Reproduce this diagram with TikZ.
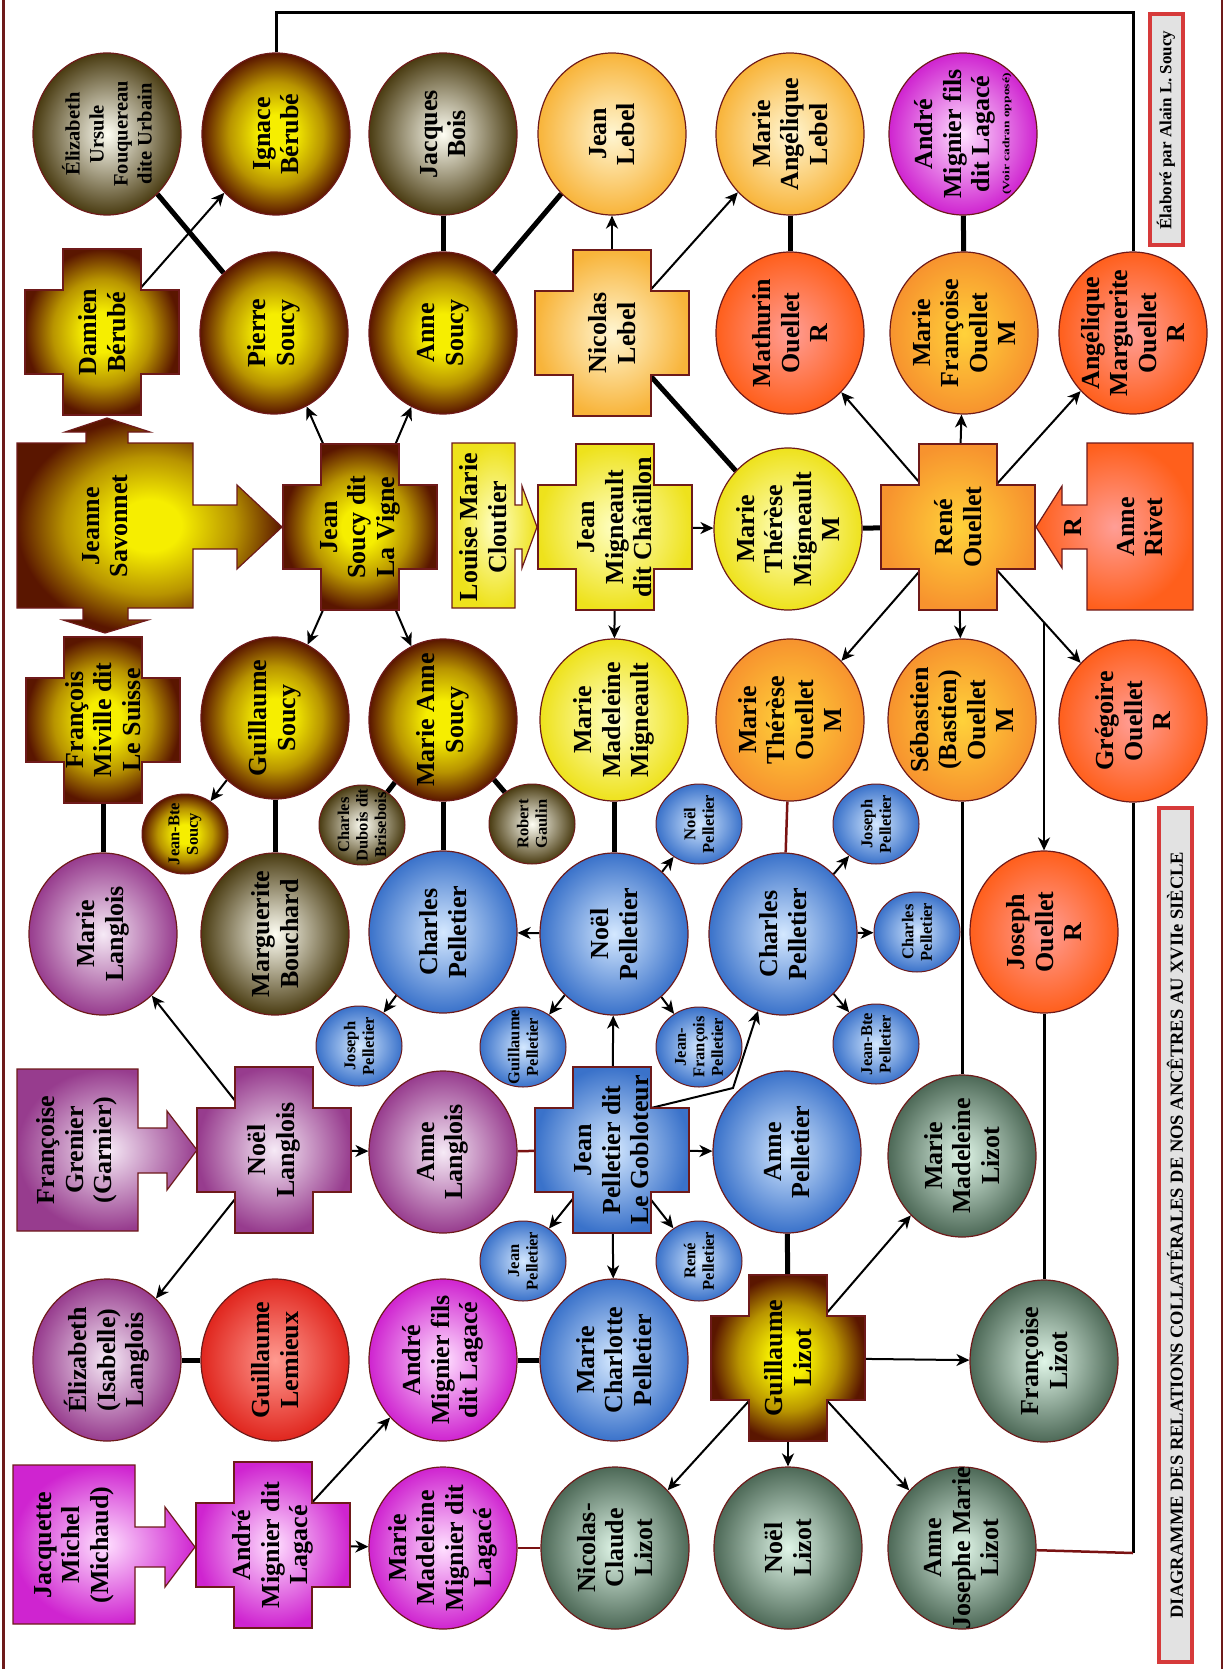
\documentclass[tikz,border=0pt]{standalone}
\usepackage{fontspec}
\setmainfont{Liberation Serif}
\usetikzlibrary{shapes.geometric,arrows.meta,backgrounds}

\definecolor{rim}{HTML}{6E1A1A}
\definecolor{tiered}{HTML}{7A1212}
\definecolor{boxred}{HTML}{D63A3A}
\definecolor{boxgrey}{HTML}{E2E2E2}
\definecolor{soucyin}{HTML}{F6EE00}
\definecolor{soucymid}{HTML}{B89400}
\definecolor{soucyout}{HTML}{5A1600}
\definecolor{olivein}{HTML}{FFFFF4}
\definecolor{oliveout}{HTML}{4A3C12}
\definecolor{lebelin}{HTML}{FFF6D2}
\definecolor{lebelout}{HTML}{F8B43A}
\definecolor{mignin}{HTML}{FFFFC4}
\definecolor{mignout}{HTML}{EEE21C}
\definecolor{ouelin}{HTML}{FFD23A}
\definecolor{ouelout}{HTML}{F7932E}
\definecolor{rivetin}{HTML}{FF9E96}
\definecolor{rivetout}{HTML}{FF5F1C}
\definecolor{langin}{HTML}{F6EAF6}
\definecolor{langout}{HTML}{973C8E}
\definecolor{lagain}{HTML}{FFE0FF}
\definecolor{lagaout}{HTML}{CF24D0}
\definecolor{lemin}{HTML}{FF9A90}
\definecolor{lemout}{HTML}{E0261E}
\definecolor{pellin}{HTML}{D4E8FF}
\definecolor{pellout}{HTML}{3A72CA}
\definecolor{lizotin}{HTML}{E0F6E8}
\definecolor{lizotout}{HTML}{4D6957}

\pgfdeclareradialshading{soucyshade}{\pgfpoint{0bp}{0bp}}{color(0bp)=(soucyin); color(6bp)=(soucyin); color(16bp)=(soucymid); color(25bp)=(soucyout); color(50bp)=(soucyout)}

\tikzset{
  soucyfam/.style={shade, shading=soucyshade},
  olivefam/.style={inner color=olivein, outer color=oliveout},
  lebelfam/.style={inner color=lebelin, outer color=lebelout},
  mignfam/.style={inner color=mignin, outer color=mignout},
  ouelfam/.style={inner color=ouelin, outer color=ouelout},
  rivetfam/.style={inner color=rivetin, outer color=rivetout},
  langfam/.style={inner color=langin, outer color=langout},
  lagafam/.style={inner color=lagain, outer color=lagaout},
  lemfam/.style={inner color=lemin, outer color=lemout},
  pellfam/.style={inner color=pellin, outer color=pellout},
  lizotfam/.style={inner color=lizotin, outer color=lizotout},
  disc/.style={ellipse, draw=rim, line width=1.2pt, minimum width=148pt, minimum height=162pt, inner sep=0pt},
  pip/.style={ellipse, draw=rim, line width=1pt, minimum width=86pt, minimum height=80pt, inner sep=0pt},
  hub/.style={rectangle, minimum width=78pt, minimum height=84pt, inner sep=0pt},
  txt/.style={rotate=90, align=center, inner sep=0pt, font=\bfseries\fontsize{26}{28.5}\selectfont},
  piptxt/.style={rotate=90, align=center, inner sep=0pt, font=\bfseries\fontsize{16.5}{18.5}\selectfont},
  credit/.style={rotate=90, draw=boxred, line width=4pt, fill=boxgrey, inner sep=0pt, minimum height=33pt, font=\bfseries\fontsize{17}{20}\selectfont},
  wed/.style={line width=5pt},
  kinline/.style={line width=3pt},
  redtie/.style={line width=2.5pt, draw=tiered},
  offspring/.style={line width=2pt, -{Stealth[length=13pt,width=12pt,inset=4pt]}}
}

% cross outline around a centre
\newcommand{\plusshape}[2]{\shade[#1, draw=rim, line width=1.2pt, shift={#2}] (-39,-83) -- (39,-83) -- (39,-42) -- (77,-42) -- (77,42) -- (39,42) -- (39,83) -- (-39,83) -- (-39,42) -- (-77,42) -- (-77,-42) -- (-39,-42) -- cycle;}

\begin{document}
\begin{tikzpicture}[x=1pt,y=-1pt]
\useasboundingbox (0,0) rectangle (1225,1669);
\draw[rim, line width=3pt] (3,0) -- (3,1669);
\draw[rim, line width=1.5pt] (1222,0) -- (1222,1669);

\coordinate (topbar) at (700,13);
\coordinate (rbranch) at (1044,623);
\coordinate (gobbend) at (733,1088);
\coordinate (gjcorner) at (1133,1553);

% block shapes with arrows
\shade[soucyfam, draw=rim, line width=1.2pt] (17,443) -- (86,443) -- (86,432) -- (65,432) -- (107,418) -- (150,432) -- (128,432) -- (128,443) -- (193,443) -- (193,505) -- (237,505) -- (237,485) -- (282,527) -- (237,569) -- (237,549) -- (193,549) -- (193,608) -- (128,608) -- (128,620) -- (148,620) -- (105,633) -- (63,620) -- (83,620) -- (83,608) -- (17,608) -- cycle;
\shade[mignfam, draw=rim, line width=1.2pt] (452,443) -- (515,443) -- (515,505) -- (522,505) -- (522,486) -- (537,527) -- (522,568) -- (522,549) -- (515,549) -- (515,608) -- (452,608) -- cycle;
\shade[rivetfam, draw=rim, line width=1.2pt] (1087,443) -- (1193,443) -- (1193,610) -- (1087,610) -- (1087,549) -- (1062,549) -- (1062,568) -- (1036,527) -- (1062,486) -- (1062,505) -- (1087,505) -- cycle;
\shade[langfam, draw=rim, line width=1.2pt] (17,1069) -- (138,1069) -- (138,1128) -- (167,1128) -- (167,1111) -- (197,1150) -- (167,1190) -- (167,1173) -- (138,1173) -- (138,1231) -- (17,1231) -- cycle;
\shade[lagafam, draw=rim, line width=1.2pt] (13,1465) -- (135,1465) -- (135,1527) -- (165,1527) -- (165,1507) -- (195,1547) -- (165,1587) -- (165,1567) -- (135,1567) -- (135,1624) -- (13,1624) -- cycle;

% crosses
\plusshape{soucyfam}{(102,332)}
\plusshape{lebelfam}{(612,333)}
\plusshape{soucyfam}{(360,527)}
\plusshape{mignfam}{(615,527)}
\plusshape{ouelfam}{(958,527)}
\plusshape{soucyfam}{(103,720)}
\plusshape{langfam}{(274,1150)}
\plusshape{pellfam}{(612,1150)}
\plusshape{soucyfam}{(788,1358)}
\plusshape{lagafam}{(273,1545)}
\node[hub] (damien) at (102,332) {};
\node[hub] (nicolas) at (612,333) {};
\node[hub] (jsoucy) at (360,527) {};
\node[hub] (jmigneault) at (615,527) {};
\node[hub] (rene) at (958,527) {};
\node[hub] (francois) at (103,720) {};
\node[hub] (nlanglois) at (274,1150) {};
\node[hub] (jeanp) at (612,1150) {};
\node[hub] (glizot) at (788,1358) {};
\node[hub] (andre) at (273,1545) {};
\node[txt] (damienT) at (damien) {Damien\\Bérubé};
\node[txt] (nicolasT) at (nicolas) {Nicolas\\Lebel};
\node[txt] (jsoucyT) at (jsoucy) {Jean\\Soucy dit\\La Vigne};
\node[txt] (jmigneaultT) at (jmigneault) {Jean\\Migneault\\dit Châtillon};
\node[txt] (reneT) at (rene) {René\\Ouellet};
\node[txt] (francoisT) at (francois) {François\\Miville dit\\Le Suisse};
\node[txt] (nlangloisT) at (nlanglois) {Noël\\Langlois};
\node[txt] (jeanpT) at (jeanp) {Jean\\Pelletier dit\\Le Gobloteur};
\node[txt] (glizotT) at (glizot) {Guillaume\\Lizot};
\node[txt] (andreT) at (andre) {André\\Mignier dit\\Lagacé};
\node[txt] (jeanne) at (105,526) {Jeanne\\Savonnet};
\node[txt] (louise) at (483,527) {Louise Marie\\Cloutier};
\node[txt] (rivet) at (1140,527) {Anne\\Rivet};
\node[txt] (rivetR) at (1073,527) {R};
\node[txt] (grenier) at (77,1150) {Françoise\\Grenier\\(Garnier)};
\node[txt] (jacquette) at (74,1545) {Jacquette\\Michel\\(Michaud)};

% persons
\node[disc, olivefam] (elizabeth) at (107,134) {};
\node[disc, soucyfam] (ignace) at (276,134) {};
\node[disc, olivefam] (jacques) at (443,134) {};
\node[disc, lebelfam] (jlebel) at (612,134) {};
\node[disc, lebelfam] (angelique) at (790,134) {};
\node[disc, lagafam] (andretop) at (963,134) {};
\node[disc, soucyfam] (pierre) at (274,333) {};
\node[disc, soucyfam] (annes) at (443,333) {};
\node[disc, rivetfam] (mathurin) at (790,333) {};
\node[disc, ouelfam] (mfrancoise) at (964,333) {};
\node[disc, rivetfam] (amarguerite) at (1133,333) {};
\node[disc, mignfam] (mtmign) at (788,529) {};
\node[disc, soucyfam] (gsoucy) at (275,718) {};
\node[disc, soucyfam] (masoucy) at (443,720) {};
\node[disc, mignfam] (mmmign) at (614,720) {};
\node[disc, ouelfam] (mtouel) at (790,720) {};
\node[disc, ouelfam] (sebastien) at (962,720) {};
\node[disc, rivetfam] (gregoire) at (1133,721) {};
\node[pip, soucyfam] (jbsoucy) at (185,834) {};
\node[pip, olivefam] (dubois) at (362,825) {};
\node[pip, olivefam] (gaulin) at (532,824) {};
\node[pip, pellfam] (noelsm) at (699,824) {};
\node[pip, pellfam] (josephsmr) at (876,824) {};
\node[disc, langfam] (mlanglois) at (103,934) {};
\node[disc, olivefam] (bouchard) at (275,934) {};
\node[disc, pellfam] (charles) at (443,932) {};
\node[disc, pellfam] (noelp) at (614,934) {};
\node[disc, pellfam] (charles2) at (783,934) {};
\node[pip, pellfam] (charlessm) at (917,932) {};
\node[disc, rivetfam] (joseph) at (1044,932) {};
\node[pip, pellfam] (josephsml) at (359,1046) {};
\node[pip, pellfam] (guillsm) at (523,1047) {};
\node[pip, pellfam] (jfsm) at (699,1047) {};
\node[pip, pellfam] (jbpsm) at (876,1044) {};
\node[disc, langfam] (alanglois) at (443,1152) {};
\node[disc, pellfam] (annep) at (787,1152) {};
\node[disc, lizotfam] (mmlizot) at (962,1156) {};
\node[pip, pellfam] (jeansm) at (523,1261) {};
\node[pip, pellfam] (renesm) at (699,1261) {};
\node[disc, langfam] (elanglois) at (107,1360) {};
\node[disc, lemfam] (lemieux) at (275,1360) {};
\node[disc, lagafam] (andrefils) at (443,1360) {};
\node[disc, pellfam] (mcharlotte) at (614,1360) {};
\node[disc, lizotfam] (flizot) at (1044,1361) {};
\node[disc, lagafam] (mmmignier) at (443,1548) {};
\node[disc, lizotfam] (nclizot) at (615,1548) {};
\node[disc, lizotfam] (nlizot) at (788,1548) {};
\node[disc, lizotfam] (ajlizot) at (962,1548) {};

\node[txt, font=\bfseries\fontsize{20.5}{24}\selectfont] (elizabethT) at (elizabeth) {Élizabeth\\Ursule\\Fouquereau\\dite Urbain};
\node[txt] (ignaceT) at (ignace) {Ignace\\Bérubé};
\node[txt] (jacquesT) at (jacques) {Jacques\\Bois};
\node[txt] (jlebelT) at (jlebel) {Jean\\Lebel};
\node[txt] (angeliqueT) at (angelique) {Marie\\Angélique\\Lebel};
\node[txt] (andretopT) at (andretop) {André\\Mignier fils\\dit Lagacé\\[-9pt]{\fontsize{13.5}{14}\selectfont\scalebox{1}[0.72]{(Voir cadran opposé)}}};
\node[txt] (pierreT) at (pierre) {Pierre\\Soucy};
\node[txt] (annesT) at (annes) {Anne\\Soucy};
\node[txt] (mathurinT) at (mathurin) {Mathurin\\Ouellet\\R};
\node[txt] (mfrancoiseT) at (mfrancoise) {Marie\\Françoise\\Ouellet\\M};
\node[txt] (amargueriteT) at (amarguerite) {Angélique\\Marguerite\\Ouellet\\R};
\node[txt] (mtmignT) at (mtmign) {Marie\\Thérèse\\Migneault\\M};
\node[txt] (gsoucyT) at (gsoucy) {Guillaume\\Soucy};
\node[txt] (masoucyT) at (masoucy) {Marie Anne\\Soucy};
\node[txt] (mmmignT) at (mmmign) {Marie\\Madeleine\\Migneault};
\node[txt] (mtouelT) at (mtouel) {Marie\\Thérèse\\Ouellet\\M};
\node[txt] (sebastienT) at (sebastien) {Sébastien\\(Bastien)\\Ouellet\\M};
\node[txt] (gregoireT) at (gregoire) {Grégoire\\Ouellet\\R};
\node[piptxt] (jbsoucyT) at (jbsoucy) {Jean-Bte\\Soucy};
\node[piptxt] (duboisT) at (dubois) {Charles\\Dubois dit\\Brisebois};
\node[piptxt] (gaulinT) at (gaulin) {Robert\\Gaulin};
\node[piptxt] (noelsmT) at (noelsm) {Noël\\Pelletier};
\node[piptxt] (josephsmrT) at (josephsmr) {Joseph\\Pelletier};
\node[txt] (mlangloisT) at (mlanglois) {Marie\\Langlois};
\node[txt] (bouchardT) at (bouchard) {Marguerite\\Bouchard};
\node[txt] (charlesT) at (charles) {Charles\\Pelletier};
\node[txt] (noelpT) at (noelp) {Noël\\Pelletier};
\node[txt] (charles2T) at (charles2) {Charles\\Pelletier};
\node[piptxt] (charlessmT) at (charlessm) {Charles\\Pelletier};
\node[txt] (josephT) at (joseph) {Joseph\\Ouellet\\R};
\node[piptxt] (josephsmlT) at (josephsml) {Joseph\\Pelletier};
\node[piptxt] (guillsmT) at (guillsm) {Guillaume\\Pelletier};
\node[piptxt] (jfsmT) at (jfsm) {Jean-\\François\\Pelletier};
\node[piptxt] (jbpsmT) at (jbpsm) {Jean-Bte\\Pelletier};
\node[txt] (alangloisT) at (alanglois) {Anne\\Langlois};
\node[txt] (annepT) at (annep) {Anne\\Pelletier};
\node[txt] (mmlizotT) at (mmlizot) {Marie\\Madeleine\\Lizot};
\node[piptxt] (jeansmT) at (jeansm) {Jean\\Pelletier};
\node[piptxt] (renesmT) at (renesm) {René\\Pelletier};
\node[txt] (elangloisT) at (elanglois) {Élizabeth\\(Isabelle)\\Langlois};
\node[txt] (lemieuxT) at (lemieux) {Guillaume\\Lemieux};
\node[txt] (andrefilsT) at (andrefils) {André\\Mignier fils\\dit Lagacé};
\node[txt] (mcharlotteT) at (mcharlotte) {Marie\\Charlotte\\Pelletier};
\node[txt] (flizotT) at (flizot) {Françoise\\Lizot};
\node[txt] (mmmignierT) at (mmmignier) {Marie\\Madeleine\\Mignier dit\\Lagacé};
\node[txt] (nclizotT) at (nclizot) {Nicolas-\\Claude\\Lizot};
\node[txt] (nlizotT) at (nlizot) {Noël\\Lizot};
\node[txt] (ajlizotT) at (ajlizot) {Anne\\Josephe Marie\\Lizot};

\node[credit, minimum width=231pt] (credit) at (1166,130) {Élaboré par Alain L. Soucy};
\node[credit, minimum width=854pt, font=\bfseries\fontsize{18.5}{22}\selectfont] (title) at (1175,1235) {DIAGRAMME DES RELATIONS COLLATÉRALES DE NOS ANCÊTRES AU XVIIe SIÈCLE};

\begin{pgfonlayer}{background}
\draw[wed] (elizabeth) -- (pierre);
\draw[wed] (jacques) -- (annes);
\draw[wed] (annes) -- (jlebel);
\draw[wed] (angelique) -- (mathurin);
\draw[wed] (andretop) -- (mfrancoise);
\draw[wed] (nicolas) -- (mtmign);
\draw[wed] (mtmign) -- (rene);
\draw[wed] (francois) -- (mlanglois);
\draw[wed] (gsoucy) -- (bouchard);
\draw[wed] (masoucy) -- (dubois);
\draw[wed] (masoucy) -- (gaulin);
\draw[wed] (masoucy) -- (charles);
\draw[wed] (mmmign) -- (noelp);
\draw[wed] (elanglois) -- (lemieux);
\draw[wed] (andrefils) -- (mcharlotte);
\draw[wed] (annep) -- (glizot);
\draw[redtie] (mtouel) -- (charles2);
\draw[redtie] (alanglois) -- (jeanp);
\draw[redtie] (mmmignier) -- (nclizot);
\draw[kinline] (ignace) |- (topbar) -| (amarguerite);
\draw[kinline] (sebastien) -- (mmlizot);
\draw[kinline] (joseph) -- (flizot);
\draw[kinline] (gregoire) -- (gjcorner);
\draw[redtie] (gjcorner) -- (ajlizot);
\draw[offspring] (damien) -- (ignace);
\draw[offspring] (jsoucy) -- (pierre);
\draw[offspring] (jsoucy) -- (annes);
\draw[offspring] (jsoucy) -- (gsoucy);
\draw[offspring] (jsoucy) -- (masoucy);
\draw[offspring] (nicolas) -- (jlebel);
\draw[offspring] (nicolas) -- (angelique);
\draw[offspring] (jmigneault) -- (mtmign);
\draw[offspring] (jmigneault) -- (mmmign);
\draw[offspring] (rene) -- (mathurin);
\draw[offspring] (rene) -- (mfrancoise);
\draw[offspring] (rene) -- (amarguerite);
\draw[offspring] (rene) -- (mtouel);
\draw[offspring] (rene) -- (sebastien);
\draw[offspring] (rene) -- (gregoire);
\draw[offspring] (rbranch) -- (joseph);
\draw[offspring] (gsoucy) -- (jbsoucy);
\draw[offspring] (noelp) -- (charles);
\draw[offspring] (noelp) -- (noelsm);
\draw[offspring] (noelp) -- (guillsm);
\draw[offspring] (noelp) -- (jfsm);
\draw[offspring] (charles) -- (josephsml);
\draw[offspring] (charles2) -- (josephsmr);
\draw[offspring] (charles2) -- (charlessm);
\draw[offspring] (charles2) -- (jbpsm);
\draw[offspring] (nlanglois) -- (mlanglois);
\draw[offspring] (nlanglois) -- (alanglois);
\draw[offspring] (nlanglois) -- (elanglois);
\draw[offspring] (jeanp) -- (noelp);
\draw[offspring] (jeanp) -- (annep);
\draw[offspring] (jeanp) -- (mcharlotte);
\draw[offspring] (jeanp) -- (jeansm);
\draw[offspring] (jeanp) -- (renesm);
\draw[offspring] ([shift={(39,-42)}]jeanp.center) -- (gobbend) -- (charles2);
\draw[offspring] (andre) -- (andrefils);
\draw[offspring] (andre) -- (mmmignier);
\draw[offspring] (glizot) -- (mmlizot);
\draw[offspring] (glizot) -- (flizot);
\draw[offspring] (glizot) -- (ajlizot);
\draw[offspring] (glizot) -- (nlizot);
\draw[offspring] (glizot) -- (nclizot);
\end{pgfonlayer}
\end{tikzpicture}
\end{document}
